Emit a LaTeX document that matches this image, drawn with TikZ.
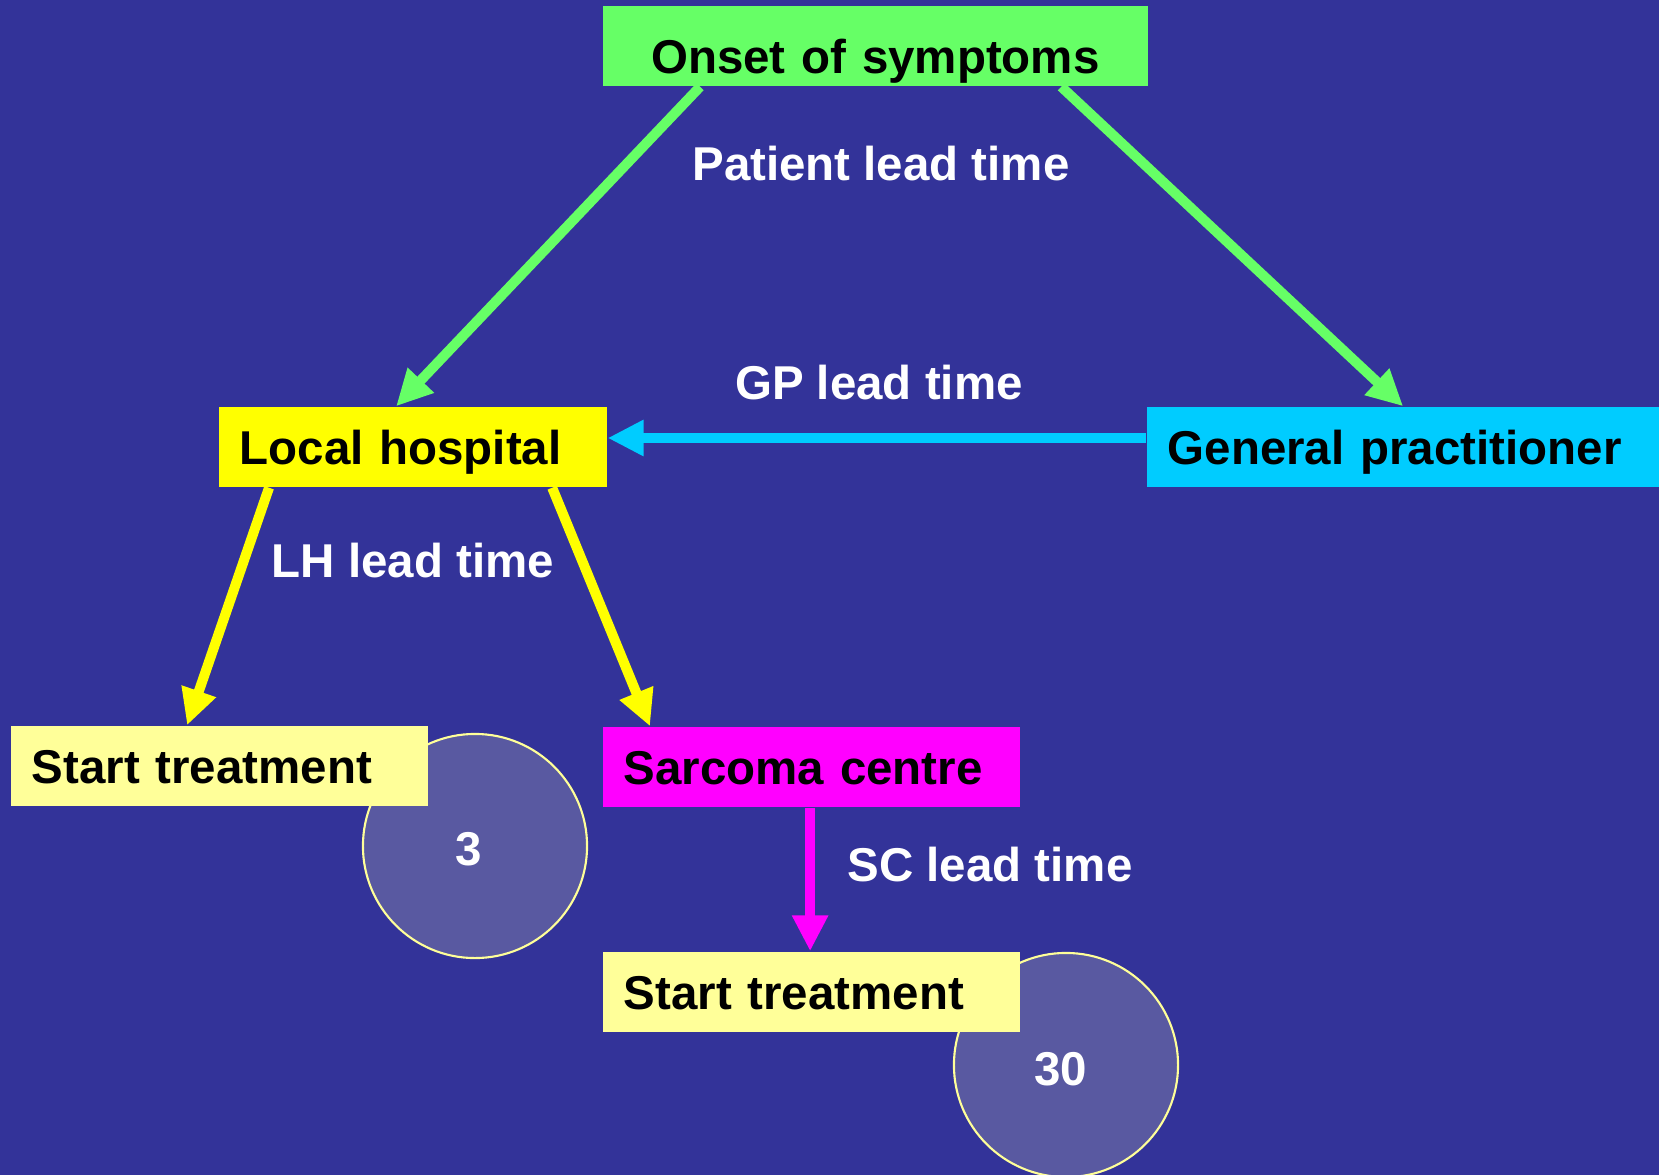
\documentclass[tikz,border=0pt]{standalone}
\usepackage{fontspec}
\setmainfont{Liberation Sans}
\usetikzlibrary{arrows.meta}
\definecolor{slidebg}{RGB}{51,51,153}
\definecolor{onsetgreen}{RGB}{102,255,102}
\definecolor{hospyellow}{RGB}{255,255,0}
\definecolor{gpcyan}{RGB}{0,204,255}
\definecolor{paleyellow}{RGB}{255,255,153}
\definecolor{centremagenta}{RGB}{255,0,255}
\definecolor{tallyfill}{RGB}{89,89,161}

\begin{document}
\begin{tikzpicture}[x=0.01cm,y=-0.01cm,
    every node/.style={font=\fontsize{13.5}{16}\selectfont\bfseries},
    stage/.style={rectangle, minimum height=0.8cm, inner xsep=0.21cm, inner ysep=0pt,
                  text height=0.4cm, text depth=0.06cm,
                  anchor=west, align=left, text=black},
    tag/.style={text=white},
    flow/.style={line width=0.1cm, -{Triangle[length=0.36cm,width=0.34cm]}},
    tally/.style={circle, draw=paleyellow, line width=0.6pt, fill=tallyfill,
                  minimum size=2.24cm, inner sep=0pt}]
  \useasboundingbox (0,0) rectangle (1659,1175);
  \clip (0,0) rectangle (1659,1175);
  \fill[slidebg] (0,0) rectangle (1659,1175);

  % counts behind the end boxes
  \node[tally] (lhcount) at (475,846) {};
  \node[tally] (sccount) at (1066,1065) {};
  \node[tag] (lhnum) at ([xshift=-0.06cm,yshift=-0.03cm]lhcount.center) {3};
  \node[tag] (scnum) at ([xshift=-0.05cm,yshift=-0.04cm]sccount.center) {30};

  \node[stage, fill=onsetgreen, text width=5.03cm, align=center, text height=0.6cm] (onset) at (602,46) {Onset of symptoms};
  \node[stage, fill=hospyellow, text width=3.46cm] (lh) at (218,447) {Local hospital};
  \node[stage, fill=gpcyan, text width=4.71cm] (gp) at (1146,447) {General practitioner};
  \node[stage, fill=paleyellow, text width=3.75cm] (lhstart) at (10,766) {Start treatment};
  \node[stage, fill=centremagenta, text width=3.75cm] (sc) at (602,767) {Sarcoma centre};
  \node[stage, fill=paleyellow, text width=3.75cm] (scstart) at (602,992) {Start treatment};

  \draw[flow, onsetgreen] ([xshift=0.98cm]onset.south west) -- ([xshift=1.78cm]lh.north west);
  \draw[flow, onsetgreen] ([xshift=4.59cm]onset.south west) -- ([xshift=2.57cm]gp.north west);
  \draw[flow, gpcyan] ([yshift=0.09cm]gp.west) -- ([yshift=0.09cm]lh.east);
  \draw[flow, hospyellow] ([xshift=0.51cm]lh.south west) -- ([xshift=1.77cm]lhstart.north west);
  \draw[flow, hospyellow] ([xshift=3.34cm]lh.south west) -- ([xshift=0.48cm]sc.north west);
  \draw[flow, centremagenta] ([xshift=2.08cm]sc.south west) -- ([xshift=2.08cm]scstart.north west);

  \node[tag] (patientlead) at (881,164) {Patient lead time};
  \node[tag] (gplead) at (879,383) {GP lead time};
  \node[tag] (lhlead) at (413,561) {LH lead time};
  \node[tag] (sclead) at (990,865) {SC lead time};
\end{tikzpicture}
\end{document}
